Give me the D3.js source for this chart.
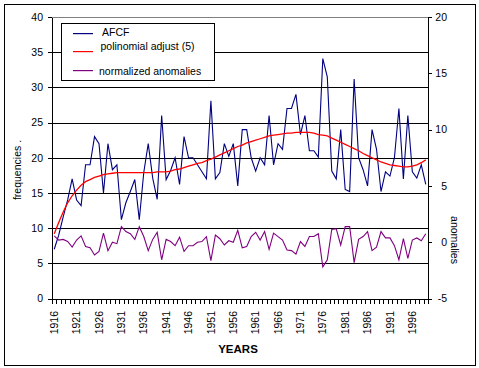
<!DOCTYPE html>
<html>
<head>
<meta charset="utf-8">
<script src="https://cdn.jsdelivr.net/npm/d3@7"></script>
<style>
  html, body { margin: 0; padding: 0; background: #fff; }
  svg { display: block; }
  text { font-family: "Liberation Sans", Arial, sans-serif; fill: #000; }
</style>
</head>
<body>
<script>
// ---------------- DATA ----------------
const years = [1916,1917,1918,1919,1920,1921,1922,1923,1924,1925,1926,1927,1928,1929,
  1930,1931,1932,1933,1934,1935,1936,1937,1938,1939,1940,1941,1942,1943,1944,1945,
  1946,1947,1948,1949,1950,1951,1952,1953,1954,1955,1956,1957,1958,1959,1960,1961,
  1962,1963,1964,1965,1966,1967,1968,1969,1970,1971,1972,1973,1974,1975,1976,1977,
  1978,1979,1980,1981,1982,1983,1984,1985,1986,1987,1988,1989,1990,1991,1992,1993,
  1994,1995,1996,1997,1998,1999];

// AFCF frequencies (left axis)
const afcf = [7,9,11.6,14,17,14,13.2,19,19,23,22,15,22,18.3,19,11.2,13.6,15.2,16.9,11.2,
  17.9,22,17.1,14.1,26,16.9,18.2,20,16.2,23,20,20,19,18,17,28.1,17,17.9,22,20.2,
  22,16,24,24,20,18.1,20,19,26,19,22,21.2,27,27,29,23.3,26,21,21,20.1,
  34.1,31.5,18.1,17,24,15.5,15.2,31.2,20,18.3,16,24,21.2,15.2,18,17.4,20,27,17,26,
  18,17.1,19,16.2];

// polynomial adjust (5) (left axis)
const poly = [9.2,10.8,12.3,13.6,14.6,15.4,16.1,16.6,16.9,17.2,17.4,17.6,17.7,17.8,17.9,
  17.9,17.9,17.9,17.9,17.9,17.9,17.9,17.9,18.0,18.0,18.0,18.1,18.3,18.4,18.6,
  18.8,19.0,19.2,19.3,19.6,19.8,20.1,20.4,20.7,21.0,21.3,21.6,21.8,22.1,22.3,
  22.5,22.7,22.9,23.1,23.2,23.3,23.4,23.5,23.5,23.6,23.6,23.6,23.6,23.5,23.3,
  23.2,23.1,22.8,22.5,22.2,21.9,21.6,21.3,21.0,20.6,20.3,20.0,19.7,19.4,19.2,
  19.0,18.9,18.8,18.7,18.7,18.8,19.0,19.3,19.7];

// normalized anomalies (right axis)
const anomalies = [0.56,0.19,0.25,0.06,-0.44,0.19,0.56,-0.38,-0.5,-1.13,-0.81,0.81,-0.75,0,
  -0.13,1.38,0.94,0.75,0.25,1.38,0.5,-0.75,0.25,0.88,-1.56,0.25,0.06,-0.31,0.45,
  -0.81,-0.31,-0.31,0,0.06,0.5,-1.63,0.63,0.31,-0.25,0.13,0,1.06,-0.5,-0.38,0.5,
  0.88,0.19,0.94,-0.63,0.81,0.5,0.19,-0.69,-0.75,-1.06,0.06,-0.38,0.5,0.5,0.75,
  -2.19,-1.56,1.13,1.19,-0.25,1.38,1.38,-1.81,0.25,0.5,0.94,-0.75,-0.44,0.94,0.38,
  0.38,-0.31,-1.56,0.31,-1.44,0.19,0.38,0.13,0.75];

const xTickLabels = [1916,1921,1926,1931,1936,1941,1946,1951,1956,1961,1966,1971,1976,1981,1986,1991,1996];
const leftTicks = [0,5,10,15,20,25,30,35,40];
const rightTicks = [-5,0,5,10,15,20];
const seriesNames = ["AFCF","polinomial adjust (5)","normalized anomalies"];
const seriesColors = ["#000080","#ff0000","#800080"];

// ---------------- LAYOUT ----------------
(function(){
const W = 479, H = 368;
const svg = d3.select("body").append("svg").attr("width", W).attr("height", H);

svg.append("rect").attr("x",0).attr("y",0).attr("width",W).attr("height",H).attr("fill","#fff");
// outer frame
svg.append("rect").attr("x",4.5).attr("y",4.5).attr("width",471).attr("height",360.5)
  .attr("fill","none").attr("stroke","#000").attr("stroke-width",1).attr("shape-rendering","crispEdges");

const pL = 52, pR = 428, pT = 17, pB = 298.5;
const x = d3.scaleBand().domain(years).range([pL, pR]).padding(0);
const yL = d3.scaleLinear().domain([0,40]).range([pB, pT]);
const yR = d3.scaleLinear().domain([-5,20]).range([pB, pT]);
const cx = d => x(d) + x.bandwidth()/2;
const r = v => Math.round(v) + 0.5;
const fmt = d => String(d);

// gridlines
const grid = svg.append("g").attr("shape-rendering","crispEdges");
leftTicks.filter(t => t > 0).forEach(t => {
  grid.append("line").attr("x1", pL).attr("x2", pR)
    .attr("y1", r(yL(t))).attr("y2", r(yL(t)))
    .attr("stroke", t === 40 ? "#808080" : "#000").attr("stroke-width",1);
});

// left axis
const gL = svg.append("g").attr("transform", `translate(${r(pL)-0.5},0)`)
  .call(d3.axisLeft(yL).tickValues(leftTicks).tickFormat(fmt).tickSize(4).tickSizeOuter(0).tickPadding(5))
  .attr("shape-rendering","crispEdges");
gL.selectAll("text").attr("font-size","10.5px").attr("font-family","Liberation Sans, Arial, sans-serif");

// right axis
const gR = svg.append("g").attr("transform", `translate(${r(pR)-0.5},0)`)
  .call(d3.axisRight(yR).tickValues(rightTicks).tickFormat(fmt).tickSize(4).tickSizeOuter(0).tickPadding(15))
  .attr("shape-rendering","crispEdges");
gR.selectAll("text").attr("font-size","10.5px").attr("font-family","Liberation Sans, Arial, sans-serif")
  .attr("text-anchor","end");

// bottom axis line + tick marks at category boundaries
const gB = svg.append("g").attr("shape-rendering","crispEdges");
gB.append("line").attr("x1", pL).attr("x2", pR).attr("y1", r(pB)).attr("y2", r(pB))
  .attr("stroke","#000");
const boundaries = years.map(d => x(d)).concat([x(years[years.length-1]) + x.bandwidth()]);
gB.selectAll("line.tk").data(boundaries).enter().append("line").attr("class","tk")
  .attr("x1", d => r(d)).attr("x2", d => r(d))
  .attr("y1", r(pB)).attr("y2", r(pB) + 4).attr("stroke","#000");

// x labels (rotated)
svg.append("g").selectAll("text").data(xTickLabels).enter().append("text")
  .attr("transform", d => `translate(${cx(d)},311) rotate(-90)`)
  .attr("text-anchor","end").attr("dy","0.35em")
  .attr("font-size","10.5px").text(d => d);

// axis titles
svg.append("text").attr("x",238).attr("y",353).attr("text-anchor","middle")
  .attr("font-size","11.5px").attr("font-weight","bold").text("YEARS");
svg.append("text").attr("transform","translate(17,170) rotate(-90)")
  .attr("text-anchor","middle").attr("dy","0.35em").attr("font-size","10.5px").text("frequencies .");
svg.append("text").attr("transform","translate(455,240) rotate(90)")
  .attr("text-anchor","middle").attr("dy","0.35em").attr("font-size","10.5px").text("anomalies");

// data lines
const lineL = d3.line().x((d,i) => cx(years[i])).y(d => yL(d));
const lineR = d3.line().x((d,i) => cx(years[i])).y(d => yR(d));
svg.append("path").datum(afcf).attr("d", lineL).attr("fill","none")
  .attr("stroke", seriesColors[0]).attr("stroke-width",1.1);
svg.append("path").datum(poly).attr("d", lineL).attr("fill","none")
  .attr("stroke", seriesColors[1]).attr("stroke-width",1.3);
svg.append("path").datum(anomalies).attr("d", lineR).attr("fill","none")
  .attr("stroke", seriesColors[2]).attr("stroke-width",1.1);

// legend
const lg = svg.append("g");
lg.append("rect").attr("x",61.5).attr("y",23.5).attr("width",153).attr("height",57)
  .attr("fill","#fff").attr("stroke","#000").attr("shape-rendering","crispEdges");
const legY = [33.5, 51.5, 70.5];
const legTx = [102, 100.5, 99];
const legTy = [32, 46, 71];
seriesNames.forEach((n,i) => {
  lg.append("rect").attr("x",73).attr("y",legY[i]-0.5).attr("width",20).attr("height",1.2)
    .attr("fill", seriesColors[i]);
  lg.append("text").attr("x",legTx[i]).attr("y",legTy[i]).attr("dy","0.35em")
    .attr("font-size","10.5px").text(n);
});
})();
</script>
</body>
</html>
